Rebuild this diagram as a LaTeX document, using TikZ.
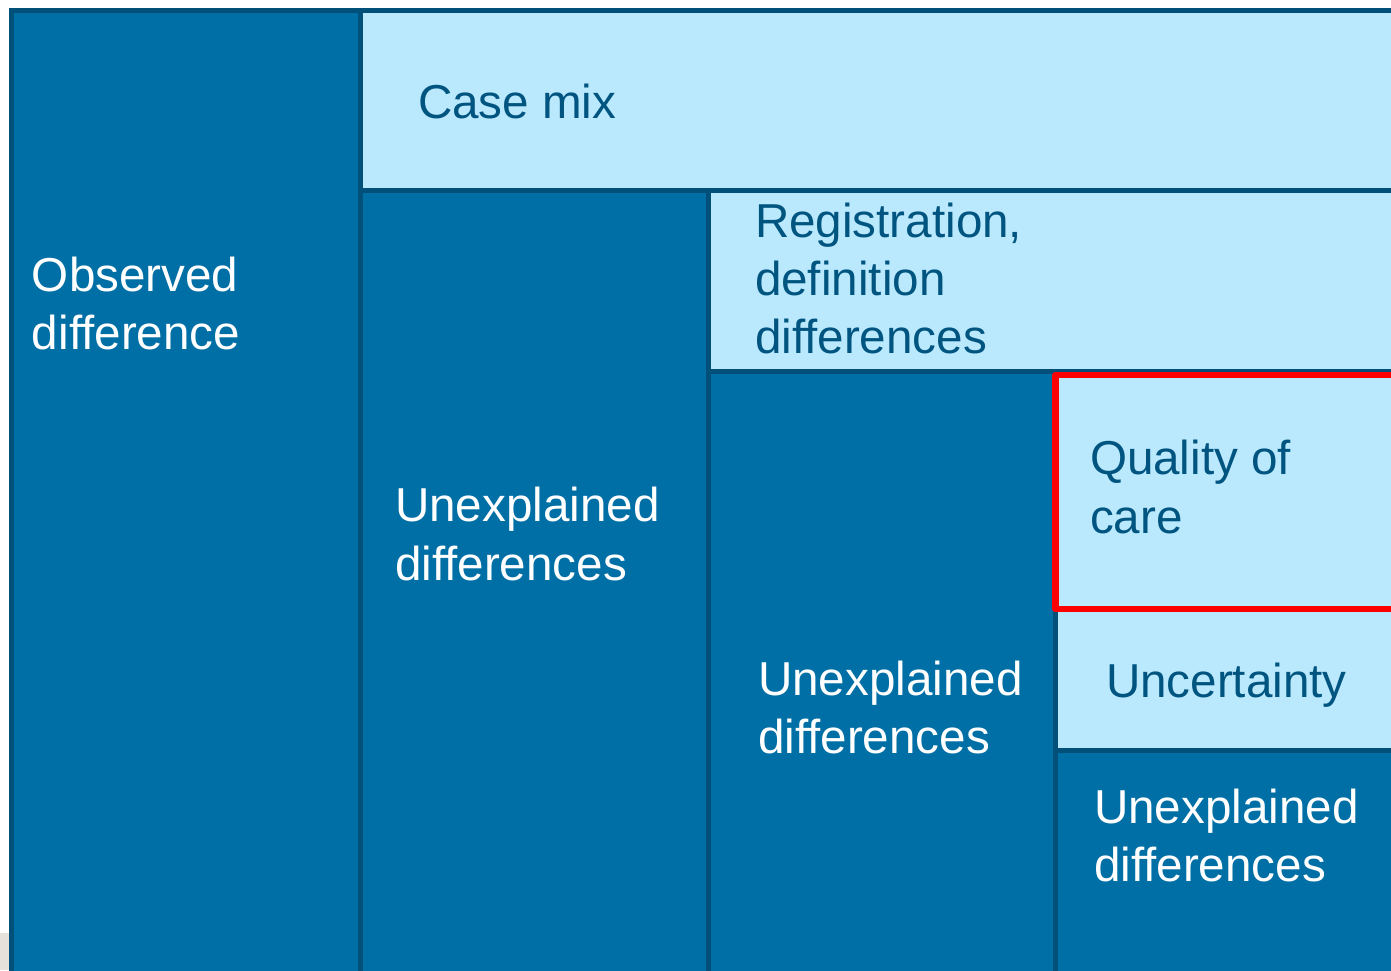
\documentclass[tikz,border=0pt]{standalone}
\usepackage{fontspec}
\setmainfont{Liberation Sans}
\usepackage{tikz}

\definecolor{darkFill}{RGB}{0,111,166}
\definecolor{edgeColor}{RGB}{0,80,122}
\definecolor{lightFill}{RGB}{186,232,253}
\definecolor{textDark}{RGB}{0,85,128}
\definecolor{markRed}{RGB}{255,0,0}
\definecolor{cornerGray}{RGB}{230,225,218}

\begin{document}
\begin{tikzpicture}[x=0.5pt,y=0.5pt,
  darkbox/.style={draw=edgeColor,line width=2.5pt,fill=darkFill},
  lightbox/.style={draw=edgeColor,line width=2.5pt,fill=lightFill},
  boxtext/.style={anchor=base west,inner sep=0pt,outer sep=0pt,align=left,
    font=\fontsize{23.8}{29}\selectfont},
  ontext/.style={boxtext,text=white},
  intext/.style={boxtext,text=textDark}]
\path[use as bounding box,fill=white] (0,0) rectangle (1391,970);
\clip (0,0) rectangle (1391,970);
\fill[cornerGray] (0,0) rectangle (9,37);

% left column
\path[darkbox] (11.5,-20) rectangle (360,959.5);

% top row and second column
\path[lightbox] (360,779.5) rectangle (1420,959.5);
\path[darkbox] (360,-20) rectangle (708,779.5);

% third level
\path[lightbox] (708,598) rectangle (1420,779.5);
\path[darkbox] (708,-20) rectangle (1055,598);

% right column
\path[lightbox] (1055,220) rectangle (1420,598);
\path[darkbox] (1055,-20) rectangle (1420,220);
\path[draw=markRed,line width=3.2pt,fill=lightFill,line join=round] (1055.5,361) rectangle (1420,595);

% labels (anchored at the baseline of the last line)
\node[ontext] (observed) at (32,620) {Observed\\difference};
\node[intext] (casemix) at (418,851) {Case mix};
\node[ontext] (unexplainedA) at (395,390) {Unexplained\\differences};
\node[intext] (registration) at (755,616) {Registration,\\definition\\differences};
\node[ontext] (unexplainedB) at (758,217) {Unexplained\\differences};
\node[intext] (quality) at (1090,437) {Quality of\\care};
\node[intext] (uncertainty) at (1106,273) {Uncertainty};
\node[ontext] (unexplainedC) at (1094,89) {Unexplained\\differences};
\end{tikzpicture}
\end{document}
